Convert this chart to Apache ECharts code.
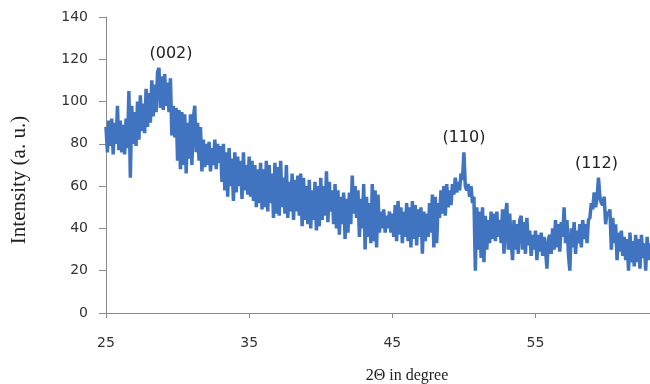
<!DOCTYPE html>
<html>
<head>
<meta charset="utf-8">
<script src="https://cdn.jsdelivr.net/npm/echarts@6/dist/echarts.min.js"></script>
<style>html,body{margin:0;padding:0;background:#fff;}#c{width:650px;height:384px;}</style>
</head>
<body>
<div id="c"></div>
<script>
// 2-theta positions (step 0.1 deg) and intensity readings, one row per degree
var twoThetaStart = 25.0;
var twoThetaStep = 0.1;
var intensity = [
  88, 76, 91, 79, 92, 75, 90, 80, 98, 77,
  91, 76, 89, 75, 92, 78, 105, 64, 98, 80,
  95, 79, 100, 82, 103, 86, 99, 85, 106, 88,
  104, 90, 110, 93, 108, 95, 114, 116, 97, 112,
  96, 113, 98, 109, 95, 111, 84, 98, 83, 97,
  72, 96, 68, 95, 70, 94, 66, 90, 73, 94,
  70, 92, 98, 76, 90, 72, 88, 67, 82, 69,
  80, 70, 81, 67, 78, 70, 82, 68, 80, 71,
  79, 62, 80, 58, 76, 55, 78, 60, 73, 53,
  76, 57, 74, 60, 72, 54, 76, 58, 70, 56,
  74, 55, 72, 53, 70, 50, 68, 52, 71, 49,
  68, 50, 72, 48, 70, 52, 66, 45, 71, 47,
  69, 46, 72, 50, 64, 47, 70, 45, 62, 48,
  66, 44, 63, 48, 65, 46, 66, 41, 64, 44,
  60, 42, 63, 40, 58, 44, 62, 39, 60, 41,
  64, 44, 60, 46, 67, 43, 62, 48, 58, 42,
  61, 40, 58, 37, 55, 42, 57, 35, 54, 38,
  57, 42, 65, 47, 60, 45, 58, 36, 54, 40,
  61, 30, 55, 36, 52, 33, 61, 34, 58, 31,
  56, 38, 48, 40, 49, 38, 46, 40, 48, 38,
  47, 36, 51, 34, 53, 37, 50, 33, 48, 36,
  52, 34, 50, 31, 53, 35, 51, 32, 49, 36,
  50, 28, 48, 34, 47, 36, 52, 38, 56, 31,
  55, 33, 52, 45, 58, 47, 60, 46, 61, 50,
  58, 51, 61, 56, 64, 57, 62, 58, 66, 63,
  76, 60, 58, 61, 55, 60, 52, 55, 20, 50,
  30, 48, 26, 50, 24, 46, 30, 44, 33, 48,
  35, 47, 34, 48, 36, 44, 33, 49, 28, 46,
  52, 30, 47, 34, 25, 44, 30, 42, 28, 44,
  46, 30, 43, 28, 45, 32, 39, 27, 37, 30,
  39, 25, 37, 29, 38, 27, 36, 30, 21, 35,
  37, 28, 40, 30, 44, 31, 42, 29, 43, 36,
  50, 33, 44, 28, 20, 40, 31, 43, 28, 39,
  33, 42, 31, 44, 35, 42, 33, 44, 45, 52,
  49, 57, 50, 54, 64, 55, 52, 51, 55, 42,
  48, 46, 49, 30, 45, 33, 42, 25, 38, 29,
  39, 27, 36, 25, 35, 20, 38, 24, 34, 22,
  37, 24, 35, 21, 37, 26, 33, 20, 36, 25,
  33
];
var xTickLabels = [25, 35, 45, 55];
var peakLabels = ['(002)', '(110)', '(112)'];
var peakX = [28.7, 50.0, 59.4];
var peakY = [116, 76, 64];

var seriesData = intensity.map(function (v, i) {
  return [+(twoThetaStart + i * twoThetaStep).toFixed(2), v];
});
var labelShift = [12, 0, -2];
var peakMarks = peakLabels.map(function (t, i) {
  return { name: t, coord: [peakX[i], peakY[i]], label: { offset: [labelShift[i], 0] } };
});

var chart = echarts.init(document.getElementById('c'), null, { renderer: 'canvas' });
chart.setOption({
  animation: false,
  backgroundColor: '#ffffff',
  grid: { left: 106, right: 0, top: 17, bottom: 71, containLabel: false, outerBoundsMode: 'none' },
  xAxis: {
    type: 'value',
    min: 25, max: 63,
    name: '2\u0398 in degree',
    nameLocation: 'middle',
    nameGap: 55,
    nameTextStyle: { fontFamily: 'Liberation Serif', fontSize: 16, color: '#222', padding: [0, 0, 0, 58] },
    axisLine: { show: true, onZero: false, lineStyle: { color: '#8a8a8a', width: 1 } },
    axisTick: { show: true, length: 5, customValues: xTickLabels, lineStyle: { color: '#8a8a8a' } },
    axisLabel: { customValues: xTickLabels, margin: 23, fontFamily: 'DejaVu Sans', fontSize: 14, color: '#333' },
    splitLine: { show: false }
  },
  yAxis: {
    type: 'value',
    min: 0, max: 140, interval: 20,
    name: 'Intensity (a. u.)',
    nameLocation: 'middle',
    nameGap: 76,
    nameRotate: 90,
    nameTextStyle: { fontFamily: 'Liberation Serif', fontSize: 21, color: '#222', padding: [0, 30, 0, 0] },
    axisLine: { show: true, lineStyle: { color: '#8a8a8a', width: 1 } },
    axisTick: { show: true, length: 7, lineStyle: { color: '#8a8a8a' } },
    axisLabel: { margin: 18, fontFamily: 'DejaVu Sans', fontSize: 14, color: '#333' },
    splitLine: { show: false }
  },
  series: [{
    type: 'line',
    data: seriesData,
    showSymbol: false,
    lineStyle: { color: '#4174c0', width: 3.5, join: 'bevel' },
    itemStyle: { color: '#4174c0' },
    markPoint: {
      symbol: 'circle',
      symbolSize: 0,
      data: peakMarks,
      label: {
        show: true,
        formatter: '{b}',
        position: 'top',
        distance: 6,
        fontFamily: 'DejaVu Sans',
        fontSize: 16,
        color: '#222'
      }
    }
  }]
});
</script>
</body>
</html>
